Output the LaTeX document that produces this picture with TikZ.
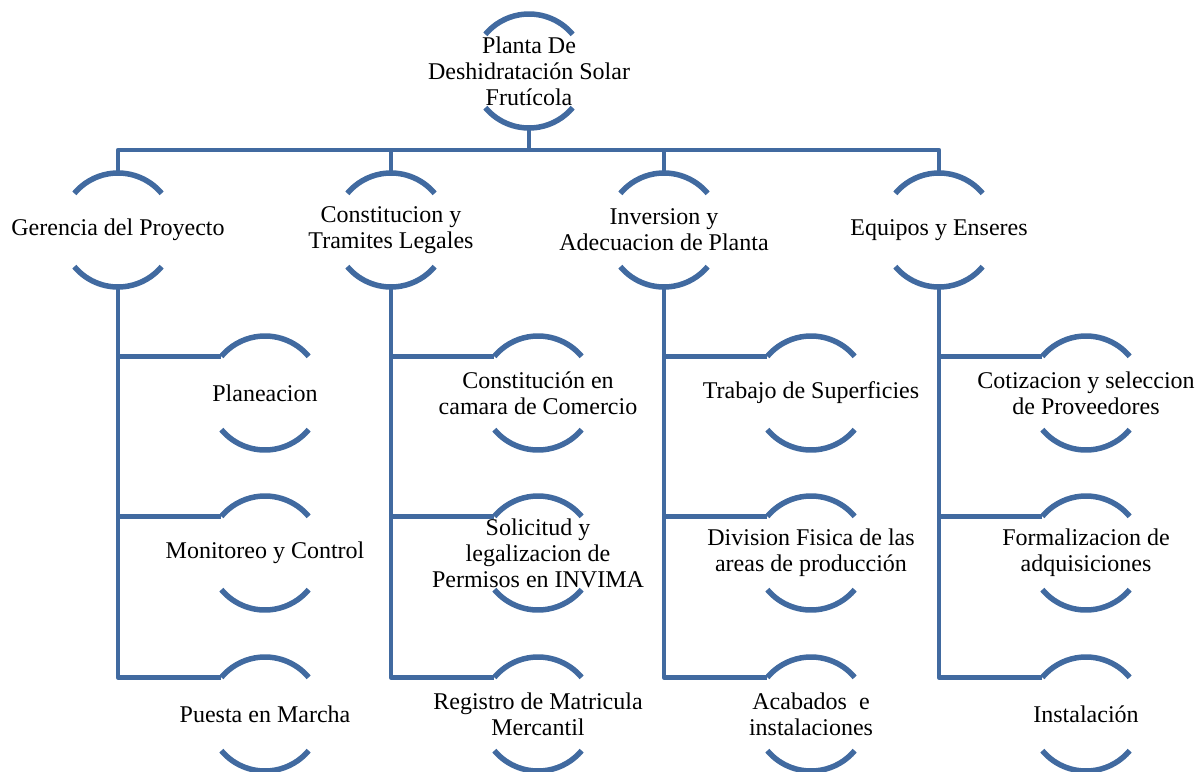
\documentclass[tikz,border=0pt]{standalone}
\usepackage{fontspec}
\setmainfont{Liberation Serif}
\definecolor{wbsblue}{RGB}{65,106,160}
\tikzset{
	ring/.style={circle, minimum size=114pt, inner sep=0pt, outer sep=0pt},
	lbl/.style={align=center, font=\fontsize{24}{26}\selectfont, inner sep=0pt},
	arcline/.style={draw=wbsblue, line width=5.5pt},
	link/.style={draw=wbsblue, line width=4.5pt, line join=round}
}
\def\ringarcs(#1){\draw[arcline] (#1.40) arc (40:140:57pt) (#1.220) arc (220:320:57pt);}

\begin{document}
\begin{tikzpicture}[x=1pt, y=-1pt]
		%%%%% START %%%%%
		\useasboundingbox (0,0) rectangle (1199,771);
		
		% rings
		\node[ring] (root) at (529, 71) {};
		\node[ring] (gp) at (118, 230) {};
		\node[ring] (ctl) at (391, 230) {};
		\node[ring] (inv) at (664, 230) {};
		\node[ring] (eqp) at (939, 230) {};
		
		\node[ring] (plan) at (265, 393) {};
		\node[ring] (mon) at (265, 553) {};
		\node[ring] (pues) at (265, 714) {};
		
		\node[ring] (cam) at (538, 393) {};
		\node[ring] (invima) at (538, 553) {};
		\node[ring] (reg) at (538, 714) {};
		
		\node[ring] (sup) at (811, 393) {};
		\node[ring] (div) at (811, 553) {};
		\node[ring] (acab) at (811, 714) {};
		
		\node[ring] (cot) at (1086, 393) {};
		\node[ring] (form) at (1086, 553) {};
		\node[ring] (inst) at (1086, 714) {};
		
		\foreach \n in {root,gp,ctl,inv,eqp,plan,mon,pues,cam,invima,reg,sup,div,acab,cot,form,inst}{
			\ringarcs(\n)
		}
		
		% connectors
		\foreach \n in {gp,ctl,inv,eqp}
			\draw[link] (root.south) -- ++(0,22) -| (\n.north);
		\foreach \p/\a/\b/\c in {gp/plan/mon/pues, ctl/cam/invima/reg, inv/sup/div/acab, eqp/cot/form/inst}{
			\draw[link] (\p.south) |- (\a.140);
			\draw[link] (\p.south) |- (\b.140);
			\draw[link] (\p.south) |- (\c.140);
		}
		
		% labels
		\node[lbl] (root-t) at (root) {Planta De\\Deshidratación Solar\\Frutícola};
		\node[lbl] (gp-t) at (gp) {Gerencia del Proyecto};
		\node[lbl] (ctl-t) at (ctl) {Constitucion y\\Tramites Legales};
		\node[lbl] (inv-t) at (inv) {Inversion y\\Adecuacion de Planta};
		\node[lbl] (eqp-t) at (eqp) {Equipos y Enseres};
		
		\node[lbl] (plan-t) at (plan) {Planeacion};
		\node[lbl] (mon-t) at (mon) {Monitoreo y Control};
		\node[lbl] (pues-t) at (pues) {Puesta en Marcha};
		
		\node[lbl] (cam-t) at (cam) {Constitución en\\camara de Comercio};
		\node[lbl] (invima-t) at (invima) {Solicitud y\\legalizacion de\\Permisos en INVIMA};
		\node[lbl] (reg-t) at (reg) {Registro de Matricula\\Mercantil};
		
		\node[lbl] (sup-t) at (sup) {Trabajo de Superficies};
		\node[lbl] (div-t) at (div) {Division Fisica de las\\areas de producción};
		\node[lbl] (acab-t) at (acab) {Acabados\ \ e\\instalaciones};
		
		\node[lbl] (cot-t) at (cot) {Cotizacion y seleccion\\de Proveedores};
		\node[lbl] (form-t) at (form) {Formalizacion de\\adquisiciones};
		\node[lbl] (inst-t) at (inst) {Instalación};
		%%%%% END %%%%%
	\end{tikzpicture}
\end{document}
